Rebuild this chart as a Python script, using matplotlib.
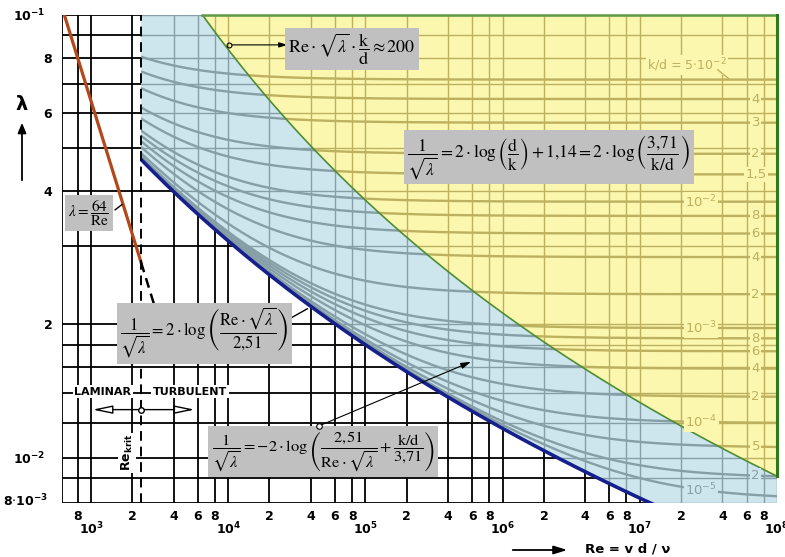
import numpy as np
import matplotlib.pyplot as plt
from matplotlib.patches import Polygon, FancyArrowPatch

plt.rcParams['mathtext.fontset'] = 'dejavusans'
plt.rcParams['font.family'] = 'DejaVu Sans'

# --- axes range / constants -------------------------------------------
RE_MIN, RE_MAX = 615, 1e8
LAM_MIN, LAM_MAX = 0.0079, 0.1
RE_KRIT = 2320

# relative roughness k/d of the drawn curves + their labels at the right
KD = [5e-2, 4e-2, 3e-2, 2e-2, 1.5e-2, 1e-2, 8e-3, 6e-3, 4e-3, 2e-3,
      1e-3, 8e-4, 6e-4, 4e-4, 2e-4, 1e-4, 5e-5, 2e-5, 1e-5]
KD_LABELS = ["", "4", "3", "2", "1,5", r"10$^{-2}$", "8", "6", "4", "2",
             r"10$^{-3}$", "8", "6", "4", "2", r"10$^{-4}$", "5", "2", r"10$^{-5}$"]

# grid of the old chart
GRID_RE = [RE_MIN, 800] + [m * 10.0 ** e for e in range(3, 8) for m in (1, 2, 4, 6, 8)] + [1e8]
GRID_LAM = [0.1, 0.09, 0.08, 0.07, 0.06, 0.05, 0.04, 0.03, 0.02, 0.018,
            0.016, 0.014, 0.012, 0.01, 0.009, LAM_MIN]

# tick labels
X_MAJOR = [1e3, 1e4, 1e5, 1e6, 1e7, 1e8]
X_MAJOR_LAB = [r"$\mathbf{10^{%d}}$" % e for e in range(3, 9)]
X_MINOR = [800] + [m * 10.0 ** e for e in range(3, 8) for m in (2, 4, 6, 8)]
X_MINOR_LAB = ["8"] + ["2", "4", "6", "8"] * 5
Y_MAJOR = [0.1, 0.01]
Y_MAJOR_LAB = [r"$\mathbf{10^{-1}}$", r"$\mathbf{10^{-2}}$"]
Y_MINOR = [0.08, 0.06, 0.04, 0.02]
Y_MINOR_LAB = ["8", "6", "4", "2"]

BLUE = "#cde5ec"; BLUE_LN = "#869ea5"
YEL = "#fbf7ae"; YEL_LN = "#bdb05e"
GREEN = "#4f8d35"; NAVY = "#16208c"; RUST = "#b3481b"
BOX = "#c0c0c0"


def colebrook(re, kd):
    x = np.full_like(re, 7.0)
    for _ in range(60):
        x = -2 * np.log10(2.51 * x / re + kd / 3.71)
    return 1 / x ** 2


def smooth(re):
    x = np.full_like(re, 7.0)
    for _ in range(60):
        x = 2 * np.log10(re / (2.51 * x))
    return 1 / x ** 2


fig = plt.figure(figsize=(7.85, 5.57), dpi=100)
ax = fig.add_axes([62 / 785, 1 - 503 / 557, (777 - 62) / 785, (503 - 15) / 557])
ax.set_xscale('log'); ax.set_yscale('log')
ax.set_xlim(RE_MIN, RE_MAX); ax.set_ylim(LAM_MIN, LAM_MAX)
for s in ax.spines.values():
    s.set_visible(False)


def grid(color, lw, z, clip=None):
    arts = [ax.axvline(r, color=color, lw=lw, zorder=z) for r in GRID_RE]
    arts += [ax.axhline(l, color=color, lw=lw, zorder=z) for l in GRID_LAM]
    if clip is not None:
        for a in arts:
            a.set_clip_path(clip)


# regions
re_s = np.logspace(np.log10(RE_KRIT), 9, 500)
lam_s = smooth(re_s)
blue = Polygon(np.column_stack([np.r_[re_s, 1e9, RE_KRIT], np.r_[lam_s, 1.0, 1.0]]),
               closed=True, fc=BLUE, ec='none', zorder=2)
kd_b = np.logspace(-0.7, -6, 600)
lam_b = 1 / (2 * np.log10(3.71 / kd_b)) ** 2
re_b = 200 / (np.sqrt(lam_b) * kd_b)
yel = Polygon(np.column_stack([np.r_[re_b, re_b[-1], re_b[0]], np.r_[lam_b, 1.0, 1.0]]),
              closed=True, fc=YEL, ec='none', zorder=4)

grid("black", 1.3, 1)
ax.add_patch(blue)
grid(BLUE_LN, 1.0, 3, blue)
ax.add_patch(yel)
grid(YEL_LN, 1.0, 5, yel)

re = np.logspace(np.log10(RE_KRIT), 8, 400)
for kd in KD:
    lam = colebrook(re, kd)
    l1, = ax.plot(re, lam, color=BLUE_LN, lw=1.7, zorder=3)
    l1.set_clip_path(blue)
    l2, = ax.plot(re, lam, color=YEL_LN, lw=1.7, zorder=5)
    l2.set_clip_path(yel)

# green border of the rough zone
ax.plot(re_b, lam_b, color=GREEN, lw=1.2, zorder=6)
re_top = np.interp(np.log(LAM_MAX), np.log(lam_b[::-1]), np.log(re_b[::-1]))
lam_r = np.interp(np.log(RE_MAX), np.log(re_b), np.log(lam_b))
ax.plot([np.exp(re_top), RE_MAX], [LAM_MAX, LAM_MAX], color="#5f9a45", lw=1.8, zorder=6, clip_on=False)
ax.plot([RE_MAX, RE_MAX], [LAM_MAX, np.exp(lam_r)], color="#2d7a1c", lw=2.2, zorder=6, clip_on=False)

# smooth pipe, laminar, critical Re
ax.plot(re_s, lam_s, color=NAVY, lw=2.6, zorder=7, solid_capstyle='butt')
re_l = np.logspace(np.log10(RE_MIN), np.log10(RE_KRIT), 50)
ax.plot(re_l, 64 / re_l, color=RUST, lw=2.3, zorder=7)
re_d = np.array([RE_KRIT, 3400])
ax.plot(re_d, 64 / re_d, color="black", lw=1.8, ls=(0, (4, 2.5)), zorder=7)
ax.axvline(RE_KRIT, color="black", lw=1.4, ls=(0, (5, 3)), zorder=7)

# roughness labels along the right edge
for kd, lab in zip(KD, KD_LABELS):
    if not lab:
        continue
    rx = 2.8e7 if "10" in lab else 7.0e7
    ly = colebrook(np.array([rx]), kd)[0]
    rough = rx * np.sqrt(ly) * kd > 200
    ax.text(rx, ly, lab, ha='center', va='center', fontsize=9.5,
            color=YEL_LN if rough else BLUE_LN, zorder=8,
            bbox=dict(boxstyle='square,pad=0.1', fc=YEL if rough else BLUE, ec='none'))
ax.text(2.2e7, 0.0772, r"k/d = 5$\cdot$10$^{-2}$", ha='center', va='center',
        fontsize=9, color=YEL_LN, zorder=8,
        bbox=dict(boxstyle='square,pad=0.1', fc=YEL, ec='none'))
ax.plot([3.7e7, 4.5e7], [0.0752, 0.0716], color=YEL_LN, lw=1, zorder=8)

# formula boxes
fbox = dict(boxstyle='square,pad=0.2', fc=BOX, ec='none')
fkw = dict(ha='center', va='center', zorder=10, math_fontfamily='stix', bbox=fbox)
ax.text(8.0e4, 0.0838, r"$\mathrm{Re}\cdot\sqrt{\lambda}\cdot\dfrac{\mathrm{k}}{\mathrm{d}}\approx 200$",
        fontsize=13, **fkw)
ax.text(2.17e6, 0.0478,
        r"$\dfrac{1}{\sqrt{\lambda}}=2\cdot\log\left(\dfrac{\mathrm{d}}{\mathrm{k}}\right)+1{,}14"
        r"=2\cdot\log\left(\dfrac{3{,}71}{\mathrm{k/d}}\right)$", fontsize=12.5, **fkw)
ax.text(967, 0.0357, r"$\lambda=\dfrac{64}{\mathrm{Re}}$", fontsize=11, **fkw)
ax.text(6.7e3, 0.0191,
        r"$\dfrac{1}{\sqrt{\lambda}}=2\cdot\log\left(\dfrac{\mathrm{Re}\cdot\sqrt{\lambda}}{2{,}51}\right)$",
        fontsize=12, **fkw)
ax.text(4.93e4, 0.01033,
        r"$\dfrac{1}{\sqrt{\lambda}}=-2\cdot\log\left(\dfrac{2{,}51}{\mathrm{Re}\cdot\sqrt{\lambda}}"
        r"+\dfrac{\mathrm{k/d}}{3{,}71}\right)$", fontsize=11.8, **fkw)

# leaders / arrows
ax.plot([1.5e3, 1.68e3], [0.0363, 0.0373], color="black", lw=1, zorder=9)
ax.plot([2.88e4, 3.78e4], [0.0207, 0.0217], color="black", lw=1, zorder=9)
ax.annotate("", xy=(2.84e4, 0.0856), xytext=(1.02e4, 0.0856), zorder=9,
            arrowprops=dict(arrowstyle='-|>,head_length=0.5,head_width=0.15', color="black", lw=0.8))
ax.plot([1.02e4], [0.0856], 'o', ms=3.5, mfc='none', mec='black', mew=0.8, zorder=9)
ax.annotate("", xy=(6.14e5, 0.01656), xytext=(4.6e4, 0.0118), zorder=9,
            arrowprops=dict(arrowstyle='-|>,head_length=0.6,head_width=0.18', color="black", lw=0.8))
ax.plot([4.6e4], [0.0118], 'o', ms=4, mfc='white', mec='black', mew=0.8, zorder=11)

# laminar / turbulent
tkw = dict(fontsize=8, fontweight='bold', va='center', zorder=9,
           bbox=dict(boxstyle='square,pad=0.15', fc='white', ec='none'))
ax.text(1.22e3, 0.01409, "LAMINAR", ha='center', **tkw)
ax.text(5.28e3, 0.01409, "TURBULENT", ha='center', **tkw)
hollow = dict(arrowstyle='-|>,head_length=1.2,head_width=0.25', fc='white', ec='black', lw=1)
ax.annotate("", xy=(983, 0.01284), xytext=(RE_KRIT, 0.01284), arrowprops=hollow, zorder=9)
ax.annotate("", xy=(5.95e3, 0.01284), xytext=(RE_KRIT, 0.01284), arrowprops=hollow, zorder=9)
ax.plot([RE_KRIT], [0.01284], 'o', ms=4, mfc='white', mec='black', mew=1, zorder=10)
ax.text(1.83e3, 0.01026, r"Re$_{\mathbf{krit}}$", rotation=90, ha='center', va='center',
        fontsize=9, fontweight='bold', zorder=9,
        bbox=dict(boxstyle='square,pad=0.1', fc='white', ec='none'))

# ticks
ax.tick_params(which='both', length=0, labelsize=9)
ax.set_xticks(X_MAJOR, X_MAJOR_LAB)
ax.set_xticks(X_MINOR, X_MINOR_LAB, minor=True)
ax.set_yticks(Y_MAJOR, Y_MAJOR_LAB)
ax.set_yticks(Y_MINOR, Y_MINOR_LAB, minor=True)
ax.tick_params(axis='x', which='major', pad=13)
ax.tick_params(axis='x', which='minor', pad=5)
ax.tick_params(axis='y', which='major', pad=12)
ax.tick_params(axis='y', which='minor', pad=7)
for t in ax.get_xticklabels(minor=True) + ax.get_yticklabels(minor=True):
    t.set_fontweight('bold')
ax.text(-0.02, 0.008, r"8$\cdot$$\mathbf{10^{-3}}$", transform=ax.get_yaxis_transform(),
        ha='right', va='center', fontsize=9, fontweight='bold')

# axis names
fig.text(22 / 785, 1 - 105 / 557, "λ", fontsize=14, fontweight='bold', ha='center', va='center')
fig.add_artist(FancyArrowPatch(
    (22 / 785, 1 - 183 / 557), (22 / 785, 1 - 120 / 557), transform=fig.transFigure,
    arrowstyle='-|>,head_length=6,head_width=2.5', color='black', lw=1.3))
fig.add_artist(FancyArrowPatch(
    (510 / 785, 1 - 550 / 557), (570 / 785, 1 - 550 / 557), transform=fig.transFigure,
    arrowstyle='-|>,head_length=8,head_width=2.5', color='black', lw=1.3))
fig.text(585 / 785, 1 - 549 / 557, "Re = v d / ν", fontsize=9.5, fontweight='bold',
         ha='left', va='center')

fig.savefig("out.png", dpi=100, facecolor='white')
